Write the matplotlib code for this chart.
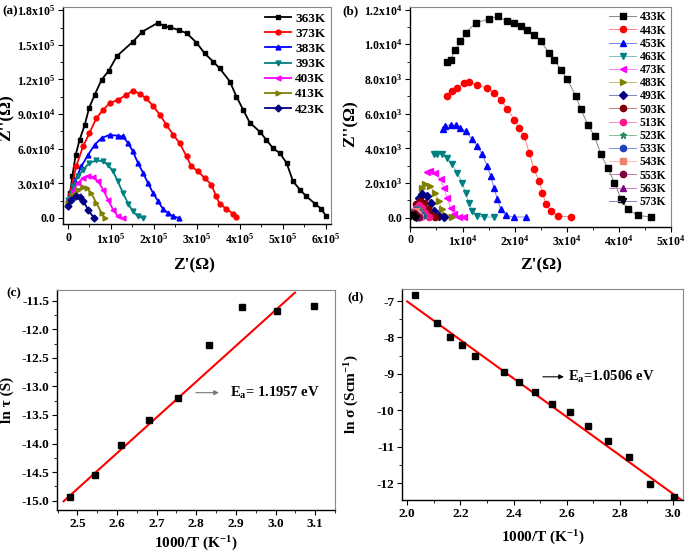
import numpy as np
import matplotlib
matplotlib.use('Agg')
import matplotlib.pyplot as plt
from matplotlib.ticker import AutoMinorLocator

plt.rcParams['font.family'] = 'Liberation Serif'
plt.rcParams['font.weight'] = 'bold'
plt.rcParams['axes.labelweight'] = 'bold'
plt.rcParams['mathtext.fontset'] = 'custom'
plt.rcParams['mathtext.rm'] = 'Liberation Serif:bold'
plt.rcParams['mathtext.it'] = 'Liberation Serif:bold'
plt.rcParams['mathtext.bf'] = 'Liberation Serif:bold'

########## (a) Nyquist plots 363K - 423K  (x in 1e5 ohm, y in 1e4 ohm)
a_temps = ['363K', '373K', '383K', '393K', '403K', '413K', '423K']
a_x_363 = [0.05, 0.10, 0.18, 0.27, 0.39, 0.49, 0.62, 0.78, 0.95, 1.14, 1.51, 1.73, 2.10, 2.23, 2.38,
           2.58, 2.77, 2.99, 3.18, 3.38, 3.53, 3.77, 3.92, 4.08, 4.23, 4.46, 4.62, 4.77, 4.93,
           5.09, 5.24, 5.40, 5.55, 5.75, 5.90, 6.00]
a_y_363 = [2.2, 3.60, 5.48, 6.77, 8.07, 9.51, 10.66, 11.96, 12.77, 14.03, 15.27, 16.14, 16.92, 16.63,
           16.51, 16.28, 15.99, 15.19, 14.27, 13.54, 12.97, 11.82, 10.52, 9.37, 8.27, 7.49, 6.77,
           6.05, 5.62, 4.76, 3.17, 2.45, 1.87, 1.24, 0.78, 0.20]
a_x_373 = [0.04, 0.19, 0.35, 0.50, 0.66, 0.82, 0.97, 1.16, 1.36, 1.51, 1.67, 1.82, 1.98, 2.14, 2.29,
           2.45, 2.60, 2.76, 2.87, 3.03, 3.18, 3.34, 3.45, 3.53, 3.69, 3.84, 3.91]
a_y_373 = [2.02, 4.47, 6.20, 7.35, 8.65, 9.37, 9.94, 10.23, 10.66, 11.04, 10.75, 10.37, 9.71, 8.93,
           8.07, 7.20, 6.48, 5.33, 4.47, 4.03, 3.46, 2.88, 1.87, 1.24, 0.78, 0.37, 0.09]
a_x_383 = [0.02, 0.16, 0.31, 0.47, 0.62, 0.78, 0.97, 1.16, 1.28, 1.40, 1.51, 1.63, 1.75, 1.86, 1.98,
           2.10, 2.21, 2.33, 2.45, 2.58]
a_y_383 = [1.73, 3.17, 4.47, 5.48, 6.34, 6.92, 7.20, 7.12, 7.06, 6.48, 5.76, 4.76, 3.89, 3.03, 2.16,
           1.44, 0.78, 0.43, 0.14, 0.0]
a_x_393 = [0.0, 0.12, 0.23, 0.35, 0.50, 0.66, 0.82, 0.93, 1.05, 1.16, 1.28, 1.40, 1.51, 1.63, 1.75]
a_y_393 = [1.59, 2.74, 3.60, 4.18, 4.76, 4.99, 4.90, 4.61, 4.03, 3.17, 2.16, 1.24, 0.58, 0.14, 0.0]
a_x_403 = [0.0, 0.12, 0.23, 0.35, 0.47, 0.58, 0.70, 0.82, 0.93, 1.05, 1.16, 1.28]
a_y_403 = [1.44, 2.31, 3.03, 3.46, 3.66, 3.54, 3.17, 2.45, 1.59, 0.72, 0.14, 0.0]
a_x_413 = [0.0, 0.12, 0.23, 0.35, 0.44, 0.54, 0.66, 0.78, 0.85]
a_y_413 = [1.30, 2.02, 2.45, 2.65, 2.59, 2.16, 1.30, 0.43, 0.0]
a_x_423 = [0.0, 0.08, 0.18, 0.27, 0.36, 0.47, 0.60]
a_y_423 = [1.01, 1.59, 1.87, 1.82, 1.44, 0.72, 0.0]

########## (b) Nyquist plots 433K - 573K  (x in 1e4 ohm, y in 1e3 ohm)
b_temps = ['433K', '443K', '453K', '463K', '473K', '483K', '493K', '503K', '513K', '523K',
           '533K', '543K', '553K', '563K', '573K']
b_x_433 = [0.705, 0.77, 0.865, 0.96, 1.06, 1.25, 1.51, 1.68, 1.86, 1.99, 2.12, 2.24, 2.37, 2.50,
           2.66, 2.76, 2.88, 3.01, 3.17, 3.27, 3.40, 3.53, 3.65, 3.78, 3.91, 4.04, 4.17, 4.36, 4.62]
b_y_433 = [8.96, 9.12, 9.69, 10.17, 10.65, 11.23, 11.46, 11.61, 11.32, 11.23, 11.04, 10.81, 10.56,
           10.17, 9.50, 9.12, 8.54, 7.97, 7.01, 6.24, 5.37, 4.70, 3.65, 2.88, 2.02, 1.06, 0.48,
           0.13, 0.04]
b_x_443 = [0.705, 0.80, 0.90, 1.03, 1.12, 1.28, 1.47, 1.60, 1.73, 1.86, 1.99, 2.08, 2.18, 2.28,
           2.37, 2.47, 2.53, 2.60, 2.69, 2.82, 3.08]
b_y_443 = [7.01, 7.29, 7.49, 7.77, 7.81, 7.68, 7.49, 7.20, 6.81, 6.24, 5.66, 5.18, 4.70, 3.74,
           2.78, 2.11, 1.44, 0.77, 0.38, 0.10, 0.04]
b_x_453 = [0.62, 0.67, 0.77, 0.87, 0.96, 1.06, 1.19, 1.28, 1.38, 1.47, 1.54, 1.60, 1.67, 1.73,
           1.83, 1.99, 2.21]
b_y_453 = [5.12, 5.28, 5.37, 5.32, 5.18, 4.99, 4.51, 4.13, 3.65, 2.98, 2.40, 1.73, 1.06, 0.48,
           0.13, 0.04, 0.04]
b_x_463 = [0.45, 0.51, 0.61, 0.705, 0.80, 0.90, 0.99, 1.06, 1.12, 1.19, 1.28, 1.41, 1.60]
b_y_463 = [3.65, 3.70, 3.65, 3.45, 3.07, 2.59, 2.02, 1.44, 0.86, 0.38, 0.10, 0.04, 0.04]
b_x_473 = [0.32, 0.38, 0.48, 0.58, 0.64, 0.705, 0.77, 0.83, 0.93, 1.03]
b_y_473 = [2.63, 2.69, 2.55, 2.21, 1.73, 1.15, 0.58, 0.19, 0.04, 0.04]
b_x_483 = [0.22, 0.29, 0.38, 0.48, 0.54, 0.61, 0.67, 0.80]
b_y_483 = [1.73, 1.92, 1.82, 1.44, 0.96, 0.48, 0.13, 0.04]
b_x_493 = [0.16, 0.22, 0.32, 0.40, 0.46, 0.54, 0.64]
b_y_493 = [1.15, 1.34, 1.25, 0.86, 0.38, 0.10, 0.04]
b_x_503 = [0.115, 0.19, 0.27, 0.33, 0.40, 0.48]
b_y_503 = [0.77, 0.96, 0.83, 0.48, 0.13, 0.04]
b_x_513 = [0.10, 0.16, 0.22, 0.29, 0.35]
b_y_513 = [0.58, 0.71, 0.58, 0.29, 0.06]
b_x_523 = [0.08, 0.13, 0.19, 0.26]
b_y_523 = [0.44, 0.58, 0.44, 0.13]
b_x_533 = [0.06, 0.115, 0.17, 0.22]
b_y_533 = [0.33, 0.44, 0.29, 0.10]
b_x_543 = [0.05, 0.10, 0.14, 0.19]
b_y_543 = [0.25, 0.36, 0.21, 0.06]
b_x_553 = [0.04, 0.08, 0.115, 0.16]
b_y_553 = [0.19, 0.29, 0.13, 0.04]
b_x_563 = [0.03, 0.06, 0.10, 0.13]
b_y_563 = [0.13, 0.21, 0.10, 0.02]
b_x_573 = [0.02, 0.05, 0.08, 0.115]
b_y_573 = [0.10, 0.15, 0.06, 0.0]

########## (c) ln tau vs 1000/T
c_x = [2.481, 2.545, 2.611, 2.681, 2.755, 2.833, 2.915, 3.003, 3.096]
c_y = [-14.93, -14.55, -14.02, -13.58, -13.20, -12.27, -11.62, -11.68, -11.60]
c_fit_x = [2.465, 3.049]
c_fit_y = [-15.01, -11.36]

########## (d) ln sigma vs 1000/T
d_x = [2.028, 2.114, 2.160, 2.208, 2.257, 2.364, 2.421, 2.481, 2.545, 2.611, 2.681, 2.755,
       2.833, 2.915, 3.003]
d_y = [-6.84, -7.60, -7.99, -8.21, -8.50, -8.94, -9.22, -9.50, -9.83, -10.05, -10.44, -10.83,
       -11.28, -12.02, -12.39]
d_fit_x = [2.0, 3.035]
d_fit_y = [-7.01, -12.48]


def style_ax(ax, fs):
    for s in ['top', 'right']:
        ax.spines[s].set_color('#888888')
    for s in ['left', 'bottom']:
        ax.spines[s].set_linewidth(1.0)
    ax.tick_params(which='both', direction='out', labelsize=fs, top=False, right=False)
    ax.tick_params(which='major', length=3.5, pad=2)
    ax.tick_params(which='minor', length=2)
    ax.xaxis.set_minor_locator(AutoMinorLocator(2))
    ax.yaxis.set_minor_locator(AutoMinorLocator(2))
    for lab in ax.get_xticklabels() + ax.get_yticklabels():
        lab.set_fontweight('bold')


fig = plt.figure(figsize=(6.85, 5.53), dpi=100)

# ---------------- (a)
ax1 = fig.add_axes([0.092, 0.595, 0.391, 0.392])
a_x = [a_x_363, a_x_373, a_x_383, a_x_393, a_x_403, a_x_413, a_x_423]
a_y = [a_y_363, a_y_373, a_y_383, a_y_393, a_y_403, a_y_413, a_y_423]
a_colors = ['black', 'red', 'blue', '#008080', 'magenta', '#808000', '#000080']
a_markers = ['s', 'o', '^', 'v', '<', '>', 'D']
for i in range(len(a_temps)):
    ax1.plot(np.array(a_x[i]) * 1e5, np.array(a_y[i]) * 1e4, color=a_colors[i],
             marker=a_markers[i], markersize=3.5, lw=1.3, label=a_temps[i])
ax1.set_xlim(-11600, 6.12e5)
ax1.set_ylim(-5200, 1.826e5)
ax1.set_xticks(np.arange(0, 7) * 1e5)
ax1.set_xticklabels(['0'] + ['%dx10$^5$' % i for i in range(1, 7)])
ax1.set_yticks(np.arange(0, 7) * 3e4)
ax1.set_yticklabels(['0.0', '3.0x10$^4$', '6.0x10$^4$', '9.0x10$^4$',
                     '1.2x10$^5$', '1.5x10$^5$', '1.8x10$^5$'])
style_ax(ax1, 8.5)
ax1.set_xlabel("Z'(\u03a9)", fontsize=12.5, fontweight='bold')
ax1.set_ylabel("Z''(\u03a9)", fontsize=12.5, fontweight='bold')
ax1.xaxis.set_label_coords(0.49, -0.155)
ax1.yaxis.set_label_coords(-0.18, 0.49)
ax1.legend(loc='upper right', frameon=False, fontsize=9.5, handlelength=2.0,
           labelspacing=0.22, handletextpad=0.3, borderaxespad=0.0)
fig.text(0.004, 0.975, '(a)', fontsize=9.5)

# ---------------- (b)
ax2 = fig.add_axes([0.599, 0.590, 0.381, 0.398])
b_x = [b_x_433, b_x_443, b_x_453, b_x_463, b_x_473, b_x_483, b_x_493, b_x_503, b_x_513,
       b_x_523, b_x_533, b_x_543, b_x_553, b_x_563, b_x_573]
b_y = [b_y_433, b_y_443, b_y_453, b_y_463, b_y_473, b_y_483, b_y_493, b_y_503, b_y_513,
       b_y_523, b_y_533, b_y_543, b_y_553, b_y_563, b_y_573]
b_colors = ['black', 'red', 'blue', '#008080', 'magenta', '#808000', '#000080', '#800000',
            '#ff1493', '#2e8b57', '#1f3fbf', '#f08070', '#800040', '#800080', 'black']
b_markers = ['s', 'o', '^', 'v', '<', '>', 'D', 'o', 'o', '*', 'o', 's', 'o', '^', 'v']
b_line = ['#888888', '#ff8080', '#8080ff', '#80c0c0', '#ff80ff', '#c0c080', '#8080c0',
          '#c08080', '#ff8ac8', '#80c0a0', '#8090e0', '#f8c0b8', '#c080a0', '#c080c0', '#8080c0']
for i in range(len(b_temps)):
    ax2.plot(np.array(b_x[i]) * 1e4, np.array(b_y[i]) * 1e3, color=b_line[i], lw=0.7,
             marker=b_markers[i], markerfacecolor=b_colors[i], markeredgecolor=b_colors[i],
             markersize=4.5, label=b_temps[i])
ax2.set_xlim(0, 5e4)
ax2.set_ylim(-520, 12170)
ax2.set_xticks(np.arange(0, 6) * 1e4)
ax2.set_xticklabels(['0'] + ['%dx10$^4$' % i for i in range(1, 6)])
ax2.set_yticks(np.arange(0, 7) * 2e3)
ax2.set_yticklabels(['0.0', '2.0x10$^3$', '4.0x10$^3$', '6.0x10$^3$',
                     '8.0x10$^3$', '1.0x10$^4$', '1.2x10$^4$'])
style_ax(ax2, 8.5)
ax2.set_xlabel("Z'(\u03a9)", fontsize=12.5, fontweight='bold')
ax2.set_ylabel("Z''(\u03a9)", fontsize=12.5, fontweight='bold')
ax2.xaxis.set_label_coords(0.50, -0.14)
ax2.yaxis.set_label_coords(-0.2, 0.47)
ax2.legend(loc='upper right', frameon=False, fontsize=8.5, handlelength=2.3,
           labelspacing=0.1, handletextpad=0.3, borderaxespad=0.0)
fig.text(0.50, 0.975, '(b)', fontsize=9.5)

# ---------------- (c)
ax3 = fig.add_axes([0.083, 0.078, 0.406, 0.398])
ax3.plot(c_fit_x, c_fit_y, color='red', lw=1.5)
ax3.plot(c_x, c_y, 's', color='black', markersize=5)
ax3.set_xlim(2.448, 3.150)
ax3.set_ylim(-15.16, -11.31)
ax3.set_xticks(np.arange(2.5, 3.15, 0.1))
ax3.set_yticks(np.arange(-15.0, -11.4, 0.5))
ax3.set_xticklabels(['%.1f' % v for v in np.arange(2.5, 3.15, 0.1)])
ax3.set_yticklabels(['%.1f' % v for v in np.arange(-15.0, -11.4, 0.5)])
style_ax(ax3, 9.5)
ax3.annotate('', xy=(2.864, -13.11), xytext=(2.792, -13.11),
             arrowprops=dict(arrowstyle='-|>', color='#777777', lw=0.8, mutation_scale=7))
ax3.text(2.885, -13.11, 'E$_\\mathrm{a}$= 1.1957 eV', fontsize=10.5, va='center')
ax3.set_xlabel('1000/T (K$^{-1}$)', fontsize=11, fontweight='bold')
ax3.set_ylabel('ln \u03c4 (S)', fontsize=11, fontweight='bold')
ax3.xaxis.set_label_coords(0.50, -0.115)
ax3.yaxis.set_label_coords(-0.155, 0.50)
fig.text(0.010, 0.465, '(c)', fontsize=9.5)

# ---------------- (d)
ax4 = fig.add_axes([0.587, 0.096, 0.410, 0.382])
ax4.plot(d_fit_x, d_fit_y, color='red', lw=1.5)
ax4.plot(d_x, d_y, 's', color='black', markersize=5)
ax4.set_xlim(1.981, 3.037)
ax4.set_ylim(-12.46, -6.66)
ax4.set_xticks(np.arange(2.0, 3.05, 0.2))
ax4.set_xticklabels(['%.1f' % v for v in np.arange(2.0, 3.05, 0.2)])
ax4.set_yticks(np.arange(-12, -6.5, 1))
ax4.set_yticklabels(['%d' % v for v in np.arange(-12, -6.5, 1)])
style_ax(ax4, 9.5)
ax4.annotate('', xy=(2.60, -9.08), xytext=(2.50, -9.08),
             arrowprops=dict(arrowstyle='-|>', color='black', lw=0.8, mutation_scale=7))
ax4.text(2.605, -9.08, 'E$_\\mathrm{a}$=1.0506 eV', fontsize=10.5, va='center')
ax4.set_xlabel('1000/T (K$^{-1}$)', fontsize=11, fontweight='bold')
ax4.set_ylabel('ln \u03c3 (Scm$^{-1}$)', fontsize=11, fontweight='bold')
ax4.xaxis.set_label_coords(0.50, -0.135)
ax4.yaxis.set_label_coords(-0.145, 0.50)
fig.text(0.507, 0.457, '(d)', fontsize=9.5)

fig.savefig('out.png', dpi=100)
